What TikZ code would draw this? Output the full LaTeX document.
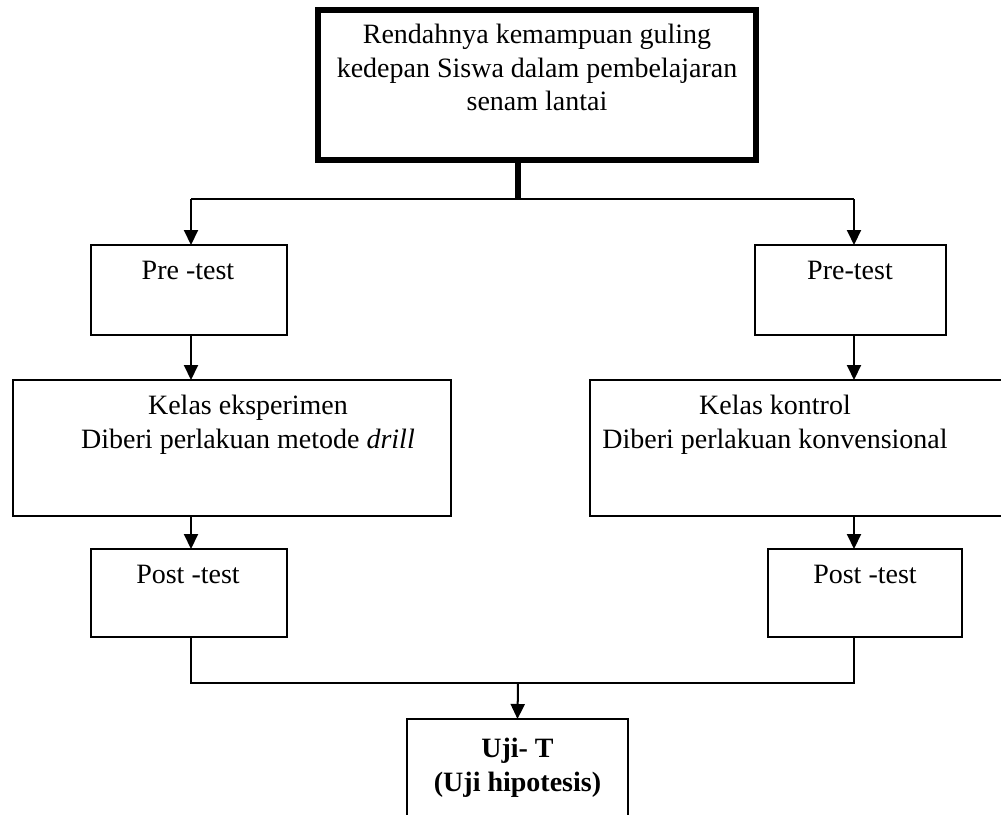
\documentclass[tikz,border=0pt]{standalone}
\usepackage{fontspec}
\setmainfont{Liberation Serif}
\usetikzlibrary{arrows.meta}
\begin{document}
\begin{tikzpicture}[x=1pt,y=-1pt,
  box/.style={draw, line width=2pt, rectangle, inner sep=0pt, outer sep=0pt, anchor=north west},
  txt/.style={inner sep=0pt, align=center, font=\fontsize{28}{33.5}\selectfont},
  ln/.style={line width=2pt},
  arr/.style={line width=2pt, -{Triangle[length=15pt,width=14pt]}}]
\useasboundingbox (0,0) rectangle (1001,814);
\clip (0,0) rectangle (1001,814);
% boxes
\node[box, line width=6pt, minimum width=438pt, minimum height=150pt] (top) at (318,10) {};
\node[box, minimum width=196pt, minimum height=90pt] (pre1) at (91,245) {};
\node[box, minimum width=191pt, minimum height=90pt] (pre2) at (755,245) {};
\node[box, minimum width=438pt, minimum height=136pt] (kel1) at (13,380) {};
\node[box, minimum width=420pt, minimum height=136pt] (kel2) at (590,380) {};
\node[box, minimum width=196pt, minimum height=88pt] (post1) at (91,549) {};
\node[box, minimum width=194pt, minimum height=88pt] (post2) at (768,549) {};
\node[box, minimum width=221pt, minimum height=120pt] (uji) at (407,719) {};
% texts
\node[txt, anchor=north] (ttop) at (537,24) {Rendahnya kemampuan guling\\kedepan Siswa dalam pembelajaran\\senam lantai};
\node[txt, anchor=base] (tpre1) at (188,279) {Pre -test};
\node[txt, anchor=base] (tpre2) at (850,279) {Pre-test};
\node[txt, anchor=north] (tkel1) at (248,395) {Kelas eksperimen\\Diberi perlakuan metode \textit{drill}};
\node[txt, anchor=north] (tkel2) at (775,395) {Kelas kontrol\\Diberi perlakuan konvensional};
\node[txt, anchor=base] (tpost1) at (188,583) {Post -test};
\node[txt, anchor=base] (tpost2) at (865,583) {Post -test};
\node[txt, anchor=north, font=\fontsize{28}{33.5}\selectfont\bfseries] (tuji) at (517.5,738) {Uji- T\\(Uji hipotesis)};
% connectors
\coordinate (bus) at (518,199);
\coordinate (bus2) at (518,683);
\coordinate (bl) at (191,199);
\coordinate (br) at (854,199);
\draw[line width=6pt] (top.south -| bus) -- (bus);
\draw[ln] (bl) -- (br);
\draw[arr] (bl) -- (bl |- pre1.north);
\draw[arr] (br) -- (br |- pre2.north);
\draw[arr] (bl |- pre1.south) -- (bl |- kel1.north);
\draw[arr] (br |- pre2.south) -- (br |- kel2.north);
\draw[arr] (bl |- kel1.south) -- (bl |- post1.north);
\draw[arr] (br |- kel2.south) -- (br |- post2.north);
\draw[ln] (bl |- post1.south) -- (bl |- bus2) -- (br |- bus2) -- (br |- post2.south);
\draw[arr] (bus2) -- (uji.north);
\end{tikzpicture}
\end{document}
